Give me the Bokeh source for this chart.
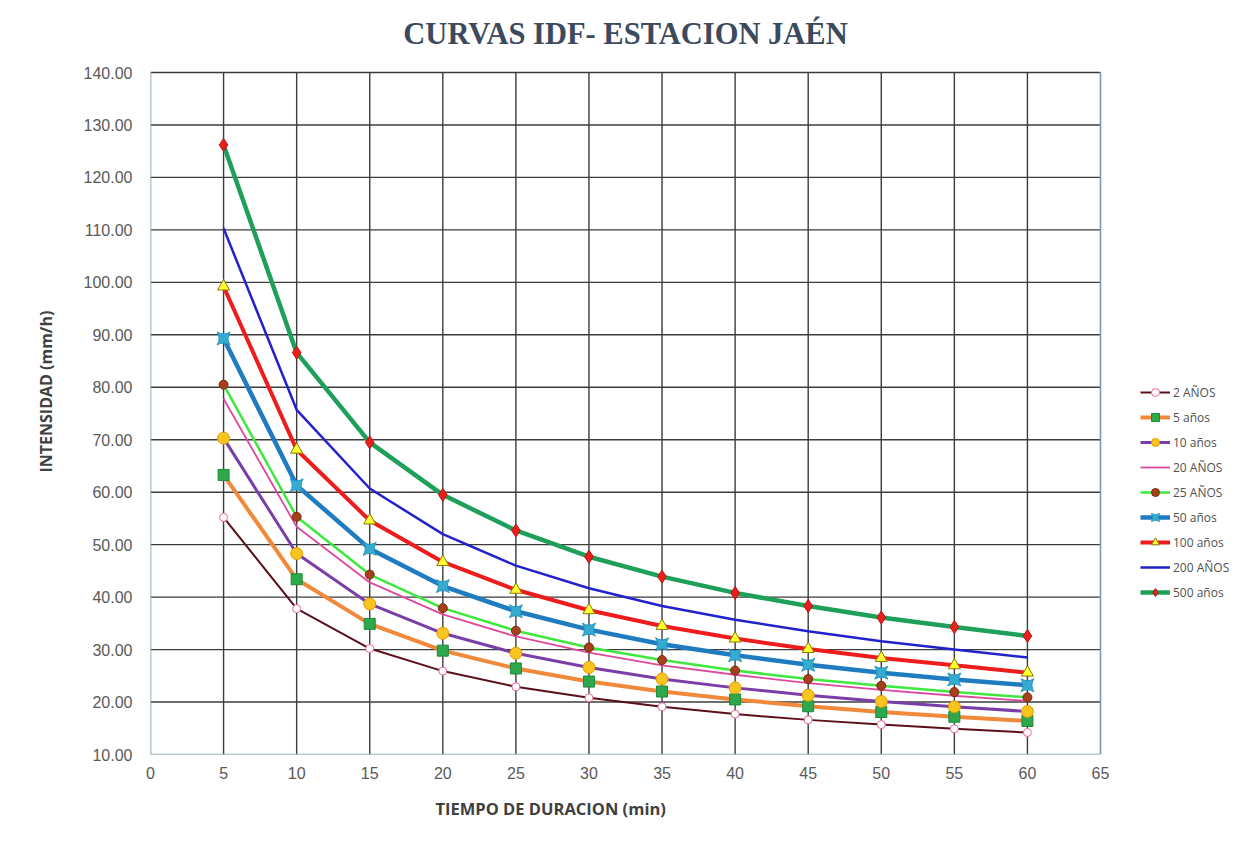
from bokeh.plotting import figure
from bokeh.models import (Range1d, FixedTicker, NumeralTickFormatter, Legend,
                          LegendItem, Title, ColumnDataSource, Label)
from bokeh.embed import file_html
from bokeh.resources import INLINE

# ---------------- data ----------------
duracion = [5, 10, 15, 20, 25, 30, 35, 40, 45, 50, 55, 60]

i_2 = [55.2, 37.8, 30.2, 25.9, 22.9, 20.8, 19.1, 17.7, 16.6, 15.7, 14.9, 14.2]
i_5 = [63.3, 43.4, 34.9, 29.8, 26.4, 23.9, 22.0, 20.5, 19.2, 18.1, 17.2, 16.4]
i_10 = [70.3, 48.3, 38.7, 33.1, 29.3, 26.6, 24.4, 22.7, 21.3, 20.1, 19.1, 18.2]
i_20 = [77.8, 53.4, 42.8, 36.7, 32.5, 29.4, 27.0, 25.2, 23.6, 22.3, 21.2, 20.2]
i_25 = [80.5, 55.3, 44.3, 37.9, 33.6, 30.4, 28.0, 26.0, 24.4, 23.1, 21.9, 20.9]
i_50 = [89.3, 61.3, 49.2, 42.1, 37.3, 33.8, 31.0, 28.9, 27.1, 25.6, 24.3, 23.2]
i_100 = [99.2, 68.1, 54.6, 46.7, 41.4, 37.5, 34.5, 32.1, 30.1, 28.4, 27.0, 25.6]
i_200 = [110.3, 75.7, 60.7, 52.0, 46.0, 41.7, 38.3, 35.7, 33.5, 31.6, 30.0, 28.5]
i_500 = [126.2, 86.6, 69.5, 59.5, 52.7, 47.7, 43.9, 40.8, 38.3, 36.1, 34.3, 32.6]

series_labels = ["2 AÑOS", "5 años", "10 años", "20 AÑOS", "25 AÑOS",
                 "50 años", "100 años", "200 AÑOS", "500 años"]
series_values = [i_2, i_5, i_10, i_20, i_25, i_50, i_100, i_200, i_500]

x_ticks = list(range(0, 70, 5))
y_ticks = list(range(10, 150, 10))
x_min, x_max = 0, 65
y_min, y_max = 10, 140

# ---------------- styles / layout ----------------
styles = [
    dict(color="#5a1018", width=2.0, marker="circle", size=8, fill="#ffffff", edge="#e8679f"),
    dict(color="#f08a3a", width=4.0, marker="square", size=11, fill="#2ea84c", edge="#1c8a38"),
    dict(color="#7a3ea8", width=3.0, marker="circle", size=12, fill="#f7c51e", edge="#e29c00"),
    dict(color="#dc4a9e", width=1.8, marker=None),
    dict(color="#3fe83f", width=2.5, marker="circle", size=9, fill="#a6401c", edge="#7a2a10"),
    dict(color="#1f7cc0", width=4.5, marker="square_pin", size=13, fill="#34acd0", edge="#2a98be"),
    dict(color="#ee1c1c", width=4.0, marker="triangle", size=12, fill="#ffff33", edge="#8a7a00"),
    dict(color="#2222cc", width=2.5, marker=None),
    dict(color="#1ea05a", width=4.5, marker="diamond", size=13, fill="#e8201c", edge="#c01010"),
]

FIG_W, FIG_H = 1244, 836
LEFT, BOTTOM = 150, 82
PLOT_RIGHT_PX = 1100   # pixel where x = 65 falls
PLOT_TOP_PX = 72       # pixel where y = 140 falls
TITLE_BASE_PX = 33     # pixel of title anchor

frame_w = FIG_W - LEFT
x_view_end = x_max * frame_w / (PLOT_RIGHT_PX - LEFT)
px_per_unit = (FIG_H - BOTTOM - PLOT_TOP_PX) / (y_max - y_min)
y_view_end = y_max + PLOT_TOP_PX / px_per_unit

p = figure(width=FIG_W, height=FIG_H,
           x_range=Range1d(x_min, x_view_end), y_range=Range1d(y_min, y_view_end),
           output_backend="svg", toolbar_location=None,
           min_border_left=LEFT, min_border_right=0,
           min_border_top=0, min_border_bottom=BOTTOM,
           background_fill_color="white", border_fill_color="white")
p.outline_line_color = None
p.xgrid.visible = False
p.ygrid.visible = False

title = Label(x=(x_min + x_max) / 2,
              y=y_max + (PLOT_TOP_PX - TITLE_BASE_PX) / px_per_unit,
              text="CURVAS IDF- ESTACION JAÉN", text_align="center",
              text_baseline="alphabetic", text_font="Liberation Serif",
              text_font_size="30.5px", text_font_style="bold",
              text_color="#3c4a5e")
p.add_layout(title)

# axes
for ax in (p.xaxis[0], p.yaxis[0]):
    ax.axis_line_color = None
    ax.major_tick_line_color = None
    ax.minor_tick_line_color = None
    ax.major_label_text_font = "Liberation Sans"
    ax.major_label_text_font_size = "16px"
    ax.major_label_text_color = "#595959"

p.xaxis.ticker = FixedTicker(ticks=x_ticks)
p.yaxis.ticker = FixedTicker(ticks=y_ticks)
p.yaxis.formatter = NumeralTickFormatter(format="0.00")
p.xaxis.major_label_standoff = 6
p.yaxis.major_label_standoff = 12

# grid lines (only over the 0..65 x 10..140 plotting area)
inner_x = [t for t in x_ticks if x_min < t < x_max]
inner_y = [t for t in y_ticks if y_min < t]
p.segment(x0=inner_x, y0=[y_min] * len(inner_x), x1=inner_x, y1=[y_max] * len(inner_x),
          line_color="#3c3c3c", line_width=1.4)
p.segment(x0=[x_min] * len(inner_y), y0=inner_y, x1=[x_max] * len(inner_y), y1=inner_y,
          line_color="#3c3c3c", line_width=1.4)
p.segment(x0=[x_min, x_max, x_min], y0=[y_min, y_min, y_min],
          x1=[x_min, x_max, x_max], y1=[y_max, y_max, y_min],
          line_color="#7d98a8", line_width=1.6)

# axis titles
ytitle = Title(text="INTENSIDAD (mm/h)", align="left", offset=282,
               text_font="Open Sans", text_font_size="16px",
               text_font_style="bold", text_color="#404040", standoff=47)
p.add_layout(ytitle, "left")
xtitle = Title(text="TIEMPO DE DURACION (min)", align="left", offset=285,
               vertical_align="top",
               text_font="Open Sans", text_font_size="16.5px",
               text_font_style="bold", text_color="#404040", standoff=30)
p.add_layout(xtitle, "below")

items = []
for label, vals, st in zip(series_labels, series_values, styles):
    src = ColumnDataSource(dict(x=duracion, y=vals))
    rs = []
    rs.append(p.line("x", "y", source=src, line_color=st["color"],
                     line_width=st["width"]))
    if st["marker"]:
        rs.append(p.scatter("x", "y", source=src, marker=st["marker"],
                            size=st["size"], fill_color=st["fill"],
                            line_color=st["edge"], line_width=1))
    items.append(LegendItem(label=label, renderers=rs))

legend = Legend(items=items, location=(990, 152),
                label_text_font="Open Sans", label_text_font_size="12px",
                label_text_color="#505050", glyph_width=30, glyph_height=20,
                label_standoff=3, spacing=5, padding=4, margin=0,
                border_line_color=None, background_fill_alpha=0)
p.add_layout(legend)

open("out.html", "w").write(file_html(p, INLINE))
